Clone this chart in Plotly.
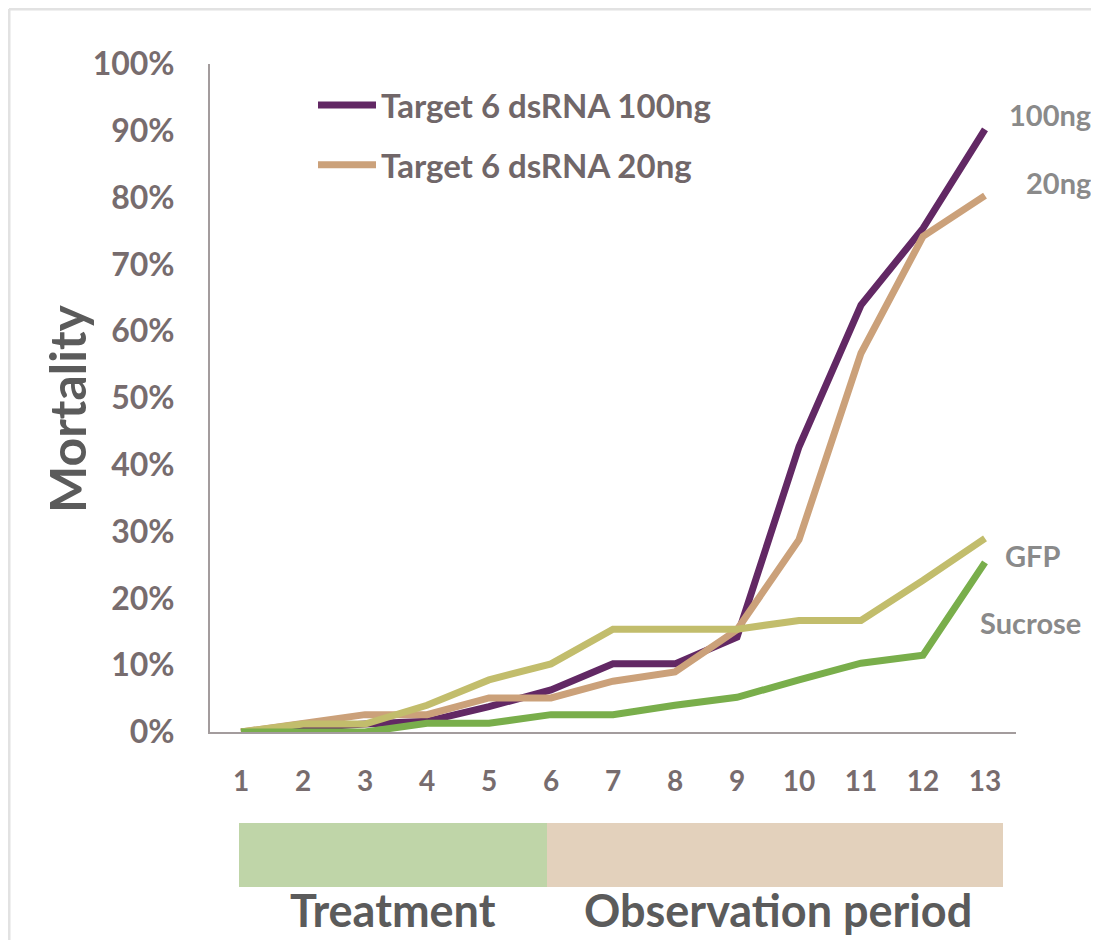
import plotly.graph_objects as go

days = list(range(1, 14))
tick_labels = [str(d) for d in days]
y_ticks = [0, 10, 20, 30, 40, 50, 60, 70, 80, 90, 100]

t6_100ng = [0, 0.7, 1.2, 1.6, 3.8, 6.3, 10.2, 10.2, 14.2, 42.7, 63.9, 75.4, 90.2]
t6_20ng = [0, 1.3, 2.6, 2.6, 5.1, 5.1, 7.6, 9.0, 15.3, 28.8, 56.7, 74.2, 80.3]
gfp = [0, 1.2, 1.2, 4.0, 7.8, 10.2, 15.4, 15.4, 15.4, 16.7, 16.7, 22.7, 29.0]
sucrose = [0, 0, 0, 1.3, 1.3, 2.6, 2.6, 4.0, 5.2, 7.8, 10.3, 11.5, 25.4]

names = ["Target 6 dsRNA 100ng", "Target 6 dsRNA 20ng", "GFP", "Sucrose"]
series = [t6_100ng, t6_20ng, gfp, sucrose]
colors = ["#622864", "#cba17a", "#c2bd6c", "#79ae4b"]
show = [True, True, False, False]

FONT = "Lato"
TICK_COL = "#776c6e"
LAB_COL = "#8a8a8a"
DARK = "#5b5b5b"

fig = go.Figure()
for i, (nm, ys, col, sh) in enumerate(zip(names, series, colors, show)):
    fig.add_trace(go.Scatter(
        x=days, y=ys, mode="lines", name=nm, showlegend=sh,
        legendgroup="g%d" % i,
        line=dict(color=col, width=7),
    ))

# page has an 8px body margin; figure is sized to fill the rest of the window
OFF = 8
W, H = 1099 - OFF, 940 - OFF
PL, PR, PT, PB = 210, 1016, 64, 732   # plot area in page pixels
L, R, T, B = PL - OFF, W - (PR - OFF), PT - OFF, H - (PB - OFF)
pw, ph = PR - PL, PB - PT

def px(x):
    return (x - PL) / pw

def py(y):
    return (PB - y) / ph

labels = [
    ("100ng", 1093, 115, "right"),
    ("20ng", 1093, 182, "right"),
    ("GFP", 1032, 555, "center"),
    ("Sucrose", 1031, 622, "center"),
]
ann = []
for txt, x, y, xa in labels:
    ann.append(dict(text=txt, x=px(x), y=py(y), xref="paper", yref="paper",
                    xanchor=xa, yanchor="middle", showarrow=False,
                    font=dict(family=FONT, size=29, color=LAB_COL, weight="bold")))
for txt, cx in [("Treatment", 393), ("Observation period", 778)]:
    ann.append(dict(text=txt, x=px(cx), y=py(910), xref="paper", yref="paper",
                    xanchor="center", yanchor="middle", showarrow=False,
                    font=dict(family=FONT, size=45, color=DARK, weight="bold")))
ann.append(dict(text="Mortality", x=px(67), y=py(409), xref="paper", yref="paper",
                xanchor="center", yanchor="middle", showarrow=False, textangle=-90,
                font=dict(family=FONT, size=50, color=DARK, weight="bold")))

shapes = [
    dict(type="rect", xref="paper", yref="paper", x0=px(239), x1=px(547), y0=py(887), y1=py(823),
         fillcolor="#bfd5a8", line=dict(width=0), layer="below"),
    dict(type="rect", xref="paper", yref="paper", x0=px(547), x1=px(1003), y0=py(887), y1=py(823),
         fillcolor="#e3d1bc", line=dict(width=0), layer="below"),
    dict(type="line", xref="paper", yref="paper", x0=px(9), x1=px(1099), y0=py(9), y1=py(9),
         line=dict(color="#e2e2e2", width=3)),
    dict(type="line", xref="paper", yref="paper", x0=px(9), x1=px(9), y0=py(9), y1=py(940),
         line=dict(color="#e2e2e2", width=3)),
]

fig.update_layout(
    width=W, height=H,
    margin=dict(l=L, r=R, t=T, b=B),
    paper_bgcolor="white", plot_bgcolor="white",
    font=dict(family=FONT),
    showlegend=True,
    legend=dict(x=px(313), y=py(77), xanchor="left", yanchor="top",
                bgcolor="rgba(0,0,0,0)", tracegroupgap=14, itemwidth=58,
                font=dict(family=FONT, size=33, color="#716769", weight="bold")),
    xaxis=dict(range=[0.5, 13.5], tickmode="array", tickvals=days, ticktext=tick_labels,
               showgrid=False, zeroline=False, showline=True, linecolor="#a39c9d", linewidth=2,
               ticks="", ticklabelstandoff=23,
               tickfont=dict(family=FONT, size=28, color=TICK_COL, weight="bold")),
    yaxis=dict(range=[0, 100], tickmode="array", tickvals=y_ticks,
               ticktext=["%d%%" % v for v in y_ticks],
               showgrid=False, zeroline=False, showline=True, linecolor="#a39c9d", linewidth=2,
               ticks="", ticklabelstandoff=27,
               tickfont=dict(family=FONT, size=32, color=TICK_COL, weight="bold")),
    annotations=ann,
    shapes=shapes,
)

fig.write_html("out.html")
